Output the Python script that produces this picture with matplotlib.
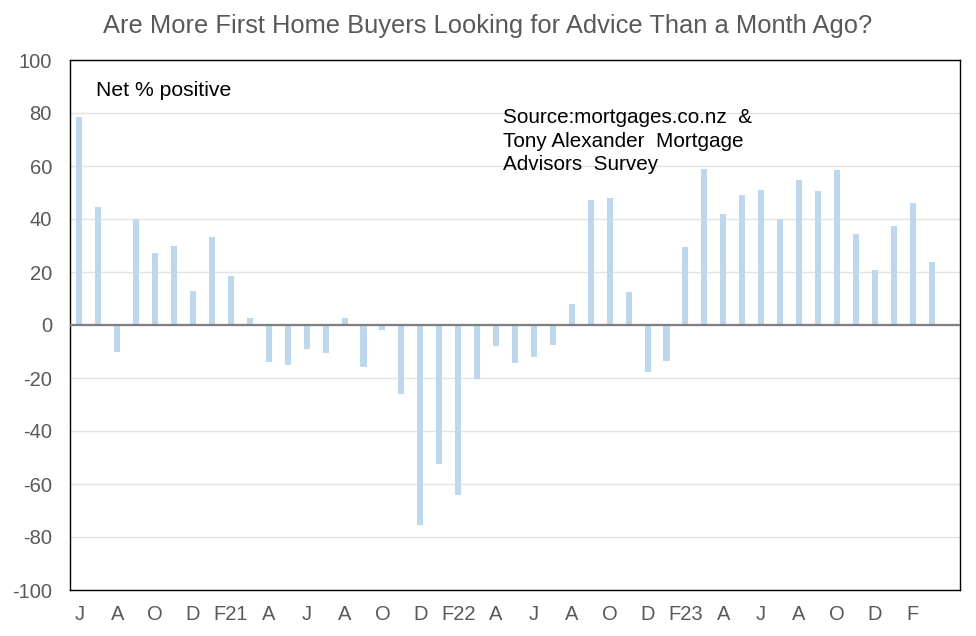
import matplotlib
matplotlib.use('Agg')
import matplotlib.pyplot as plt
import numpy as np

# monthly survey, Jun 2020 - Mar 2024
months = ['J', 'J', 'A', 'S', 'O', 'N', 'D', 'J', 'F21', 'M', 'A', 'M',
          'J', 'J', 'A', 'S', 'O', 'N', 'D', 'J', 'F22', 'M', 'A', 'M',
          'J', 'J', 'A', 'S', 'O', 'N', 'D', 'J', 'F23', 'M', 'A', 'M',
          'J', 'J', 'A', 'S', 'O', 'N', 'D', 'J', 'F', 'M']
net_positive = [78.6, 44.7, -10, 40, 27, 29.9, 13, 33.3, 18.5, 2.8,
                -13.8, -15, -9, -10.5, 2.8, -16, -1.7, -25.9, -75.3, -52.4,
                -64.1, -20.2, -8, -14.2, -11.9, -7.5, 8, 47.2, 48.1, 12.5,
                -17.6, -13.5, 29.4, 58.9, 41.7, 49.2, 51, 39.9, 54.8, 50.5,
                58.6, 34.5, 20.8, 37.5, 46.2, 23.9]
tick_labels = months[::2]
yticks = list(range(-100, 101, 20))

plt.rcParams['font.family'] = ['Liberation Sans', 'DejaVu Sans']
plt.rcParams['axes.unicode_minus'] = False

fig = plt.figure(figsize=(9.76, 6.36), dpi=100)
ax = fig.add_axes([70/976, 46/636, 890/976, 530/636])

x = np.arange(len(net_positive))
ax.bar(x, net_positive, width=0.32, color='#BDD7EE', zorder=2)
ax.axhline(0, color='#7f7f7f', linewidth=1.6, zorder=3)

ax.set_xlim(-0.5, len(net_positive) + 0.5)
ax.set_ylim(-100, 100)
ax.set_yticks(yticks)
ax.set_xticks(x[::2])
ax.set_xticklabels(tick_labels)
ax.grid(axis='y', color='#e3e3e3', linewidth=1.0, zorder=0)
ax.set_axisbelow(True)
ax.tick_params(axis='both', length=0, labelsize=14.5, labelcolor='#595959')
ax.tick_params(axis='x', pad=11)
ax.tick_params(axis='y', pad=13)
for s in ax.spines.values():
    s.set_color('black')
    s.set_linewidth(1.0)

ax.text(0.029, 0.960, 'Net % positive', transform=ax.transAxes,
        fontsize=15.2, va='top', ha='left', color='black')
ax.text(0.4865, 0.909, 'Source:mortgages.co.nz  &\nTony Alexander  Mortgage\nAdvisors  Survey',
        transform=ax.transAxes, fontsize=14.9, va='top', ha='left',
        color='black', linespacing=1.3)

fig.suptitle('Are More First Home Buyers Looking for Advice Than a Month Ago?',
             x=0.5, y=0.978, fontsize=18.4, color='#595959', va='top')

fig.savefig('out.png', dpi=100)
